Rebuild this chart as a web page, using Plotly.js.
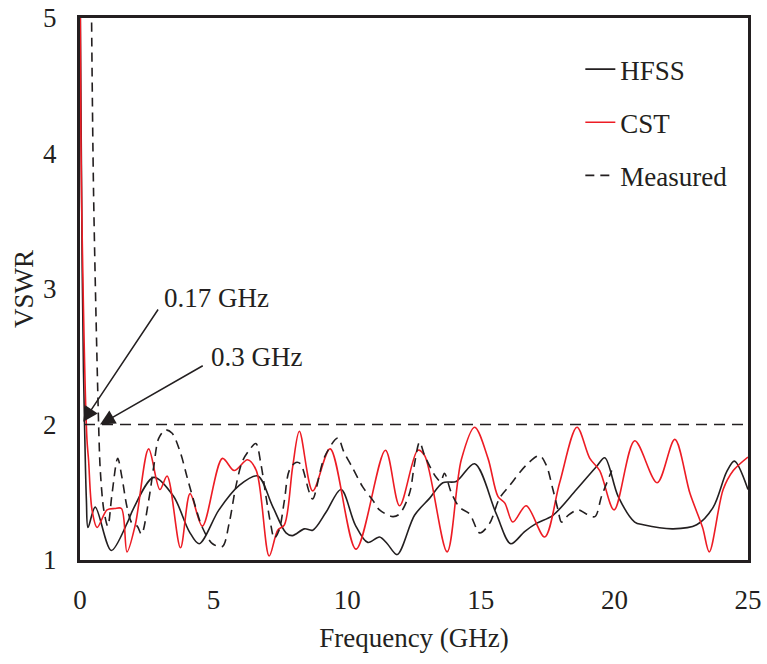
<!DOCTYPE html>
<html>
<head>
<meta charset="utf-8">
<script src="https://cdn.plot.ly/plotly-3.0.1.min.js"></script>
<style>html,body{margin:0;padding:0;background:#fff;}#chart{width:767px;height:664px;}</style>
</head>
<body>
<div id="chart"></div>
<script>
// ---- data ----
const hfssFreq = [0, 0.08, 0.13, 0.17, 0.24, 0.3, 0.57, 1.17, 1.76, 2.0, 2.76, 3.5, 4.09, 4.46, 5.2, 5.96, 6.65, 7.2, 7.71, 7.95, 8.4, 8.71, 9.2, 9.77, 10.3, 10.77, 11.21, 11.5, 11.87, 12.52, 13.08, 13.58, 14.08, 14.77, 15.58, 16.12, 16.64, 17.08, 17.7, 18.58, 19.33, 19.64, 20.14, 20.76, 21.08, 22.2, 23.08, 23.7, 24.2, 24.49, 25.0];
const hfssVswr = [5.3, 3.2, 2.4, 2.0, 1.44, 1.24, 1.39, 1.07, 1.27, 1.38, 1.61, 1.47, 1.21, 1.12, 1.37, 1.55, 1.62, 1.40, 1.20, 1.18, 1.23, 1.22, 1.35, 1.52, 1.26, 1.13, 1.17, 1.12, 1.04, 1.33, 1.455, 1.57, 1.58, 1.71, 1.34, 1.12, 1.21, 1.27, 1.33, 1.52, 1.69, 1.755, 1.47, 1.28, 1.26, 1.23, 1.26, 1.39, 1.65, 1.73, 1.52];

const cstFreq = [0, 0.03, 0.06, 0.26, 0.32, 0.45, 0.64, 1.01, 1.3, 1.55, 1.76, 2.07, 2.57, 2.99, 3.26, 3.76, 4.12, 4.58, 5.33, 5.77, 6.27, 6.6, 7.08, 7.4, 7.65, 7.96, 8.21, 8.71, 9.36, 10.33, 11.43, 11.96, 12.64, 12.9, 13.74, 14.27, 14.77, 15.27, 15.64, 15.9, 16.2, 16.7, 17.39, 17.95, 18.6, 19.08, 19.45, 19.99, 20.76, 21.6, 22.26, 22.83, 23.3, 23.55, 24.07, 24.45, 25];
const cstVswr = [5.5, 4.3, 3.66, 1.89, 1.74, 1.37, 1.24, 1.37, 1.38, 1.38, 1.06, 1.26, 1.82, 1.52, 1.62, 1.09, 1.49, 1.25, 1.75, 1.66, 1.74, 1.66, 1.03, 1.22, 1.26, 1.69, 1.95, 1.51, 1.82, 1.08, 1.81, 1.40, 1.81, 1.77, 1.06, 1.74, 1.98, 1.75, 1.47, 1.42, 1.28, 1.40, 1.17, 1.57, 1.98, 1.75, 1.66, 1.37, 1.88, 1.57, 1.89, 1.49, 1.24, 1.06, 1.52, 1.66, 1.76];

const measFreq = [0.42, 0.51, 0.71, 0.76, 0.89, 1.04, 1.2, 1.41, 1.57, 1.76, 1.95, 2.14, 2.3, 2.57, 2.76, 2.95, 3.2, 3.45, 3.76, 4.01, 4.21, 4.58, 4.96, 5.33, 5.58, 5.83, 6.08, 6.33, 6.58, 6.77, 6.96, 7.15, 7.27, 7.45, 7.65, 7.83, 8.08, 8.25, 8.58, 8.71, 9.15, 9.65, 9.87, 10.2, 10.58, 10.96, 11.21, 11.71, 11.96, 12.33, 12.52, 12.71, 12.9, 13.33, 13.5, 13.64, 13.89, 14.2, 14.58, 14.96, 15.33, 15.7, 16.08, 16.7, 17.2, 17.45, 17.7, 17.89, 18.02, 18.27, 18.64, 18.95, 19.27, 19.52, 19.9];
const measVswr = [5.3, 3.68, 1.91, 1.66, 1.37, 1.25, 1.49, 1.75, 1.61, 1.39, 1.27, 1.25, 1.19, 1.44, 1.69, 1.90, 1.96, 1.935, 1.79, 1.61, 1.47, 1.24, 1.12, 1.10, 1.27, 1.54, 1.73, 1.81, 1.86, 1.71, 1.47, 1.25, 1.16, 1.22, 1.44, 1.66, 1.72, 1.71, 1.50, 1.45, 1.76, 1.90, 1.80, 1.68, 1.54, 1.44, 1.37, 1.32, 1.34, 1.49, 1.71, 1.87, 1.77, 1.61, 1.58, 1.64, 1.50, 1.39, 1.34, 1.20, 1.27, 1.455, 1.55, 1.70, 1.77, 1.70, 1.52, 1.37, 1.28, 1.33, 1.37, 1.34, 1.32, 1.47, 1.66];

const refFreq = [0.15, 25];
const refVswr = [2, 2];

const xTicks = [0, 5, 10, 15, 20, 25];
const yTicks = [1, 2, 3, 4, 5];
const seriesNames = ['HFSS', 'CST', 'Measured'];

const FONT = 'Liberation Serif, Times New Roman, serif';
const INK = '#231f20';
const FS = 27;

const traces = [
  {x: hfssFreq, y: hfssVswr, name: seriesNames[0], mode: 'lines', legendgroup: 'a',
   line: {color: INK, width: 1.6, shape: 'spline', smoothing: 0.9}},
  {x: cstFreq, y: cstVswr, name: seriesNames[1], mode: 'lines', legendgroup: 'b',
   line: {color: '#ed1c24', width: 1.6, shape: 'spline', smoothing: 0.9}},
  {x: measFreq, y: measVswr, name: seriesNames[2], mode: 'lines', legendgroup: 'c',
   line: {color: INK, width: 1.6, dash: '9px,6px', shape: 'spline', smoothing: 0.9}},
  {x: refFreq, y: refVswr, mode: 'lines', showlegend: false, hoverinfo: 'skip',
   line: {color: INK, width: 1.4, dash: '11px,7px'}}
];

const layout = {
  width: 767, height: 664,
  margin: {l: 80, r: 19, t: 18, b: 104},
  paper_bgcolor: '#fff', plot_bgcolor: '#fff',
  font: {family: FONT, color: INK, size: FS},
  showlegend: true,
  legend: {x: 0.749, y: 0.95, xanchor: 'left', yanchor: 'top',
           font: {family: FONT, size: FS, color: INK},
           bgcolor: 'rgba(0,0,0,0)', traceorder: 'grouped', tracegroupgap: 15},
  xaxis: {range: [0, 25], tickvals: xTicks, ticks: '', showgrid: false, zeroline: false,
          showline: true, mirror: true, linecolor: INK, linewidth: 3,
          tickfont: {family: FONT, size: FS, color: INK}, ticklabelstandoff: 14,
          title: {text: 'Frequency (GHz)', font: {family: FONT, size: FS, color: INK}, standoff: 14}},
  yaxis: {range: [1, 5], tickvals: yTicks, ticks: '', showgrid: false, zeroline: false,
          showline: true, mirror: true, linecolor: INK, linewidth: 3,
          tickfont: {family: FONT, size: FS, color: INK}, ticklabelstandoff: 15,
          title: {text: 'VSWR', font: {family: FONT, size: FS, color: INK}, standoff: 2}},
  annotations: [
    {x: 0.12, y: 2.02, ax: 2.96, ay: 2.86, axref: 'x', ayref: 'y', xref: 'x', yref: 'y',
     text: '', showarrow: true, arrowhead: 2, arrowsize: 2, arrowwidth: 1.5, arrowcolor: INK},
    {x: 0.75, y: 2.0, ax: 4.65, ay: 2.44, axref: 'x', ayref: 'y', xref: 'x', yref: 'y',
     text: '', showarrow: true, arrowhead: 2, arrowsize: 2, arrowwidth: 1.5, arrowcolor: INK},
    {x: 3.07, y: 2.93, xref: 'x', yref: 'y', xanchor: 'left', yanchor: 'middle',
     text: '0.17 GHz', showarrow: false, font: {family: FONT, size: FS, color: INK}},
    {x: 4.84, y: 2.50, xref: 'x', yref: 'y', xanchor: 'left', yanchor: 'middle',
     text: '0.3 GHz', showarrow: false, font: {family: FONT, size: FS, color: INK}}
  ]
};

Plotly.newPlot('chart', traces, layout, {displayModeBar: false, staticPlot: true});
</script>
</body>
</html>
